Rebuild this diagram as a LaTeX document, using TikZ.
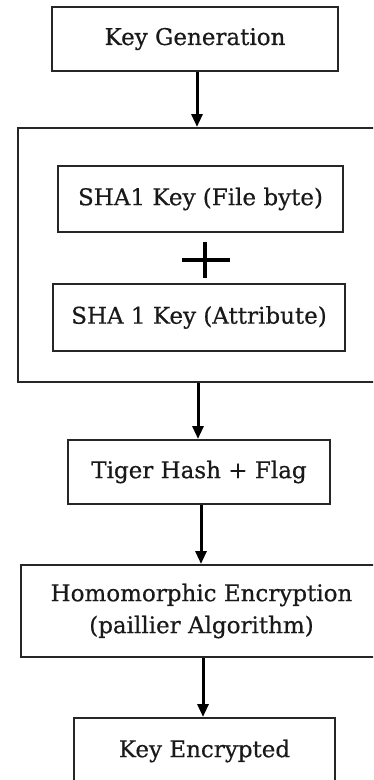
\documentclass[tikz,border=0pt]{standalone}
\usepackage{fontspec}
\setmainfont{DejaVu Serif}
\newfontfamily\boxfont{DejaVu Serif}[FakeBold=0.5]
\usetikzlibrary{arrows.meta}
\begin{document}
\begin{tikzpicture}[x=1pt,y=-1pt,
  box/.style={draw=black!85, line width=2pt, rectangle, inner sep=0pt,
    align=center, font=\boxfont\fontsize{23}{32}\selectfont, text=black!90},
  arr/.style={line width=3pt, -{Triangle[length=13pt,width=11pt]}},
  plusline/.style={line width=3.2pt}]
  \useasboundingbox (0,0) rectangle (373,780);
  \fill[white] (0,0) rectangle (373,780);
  \clip (0,0) rectangle (373,780);

  % process blocks
  \node[box, minimum width=286pt, minimum height=64pt] (kg) at (195,39) {Key Generation};
  \node[box, minimum width=364pt, minimum height=254pt] (grp) at (199.5,255) {};
  \node[box, minimum width=285pt, minimum height=66pt] (sha1) at (200.5,199) {SHA1 Key (File byte)};
  \node[box, minimum width=292pt, minimum height=67pt] (sha2) at (199,317.5) {SHA 1 Key (Attribute)};
  \node[box, minimum width=262pt, minimum height=64pt] (tiger) at (199,472) {Tiger Hash + Flag};
  \node[box, minimum width=361pt, minimum height=92pt] (homo) at (201.5,611) {Homomorphic Encryption\\(paillier Algorithm)};
  \node[box, minimum width=261pt, minimum height=66pt] (ke) at (204.5,751) {Key Encrypted};

  % plus sign between the two SHA1 keys
  \coordinate (plus) at (205,260);
  \draw[plusline] ([xshift=-23pt]plus) -- ([xshift=25pt]plus);
  \draw[plusline] ([yshift=-18pt]plus) -- ([yshift=18pt]plus);

  % flow arrows
  \draw[arr] ([xshift=2pt]kg.south) -- ([xshift=2pt]kg.south |- grp.north);
  \draw[arr] ([xshift=-1.5pt]grp.south) -- ([xshift=-1.5pt]grp.south |- tiger.north);
  \draw[arr] ([xshift=2pt]tiger.south) -- ([xshift=2pt]tiger.south |- homo.north);
  \draw[arr] ([xshift=1.5pt]homo.south) -- ([xshift=1.5pt]homo.south |- ke.north);
\end{tikzpicture}
\end{document}
